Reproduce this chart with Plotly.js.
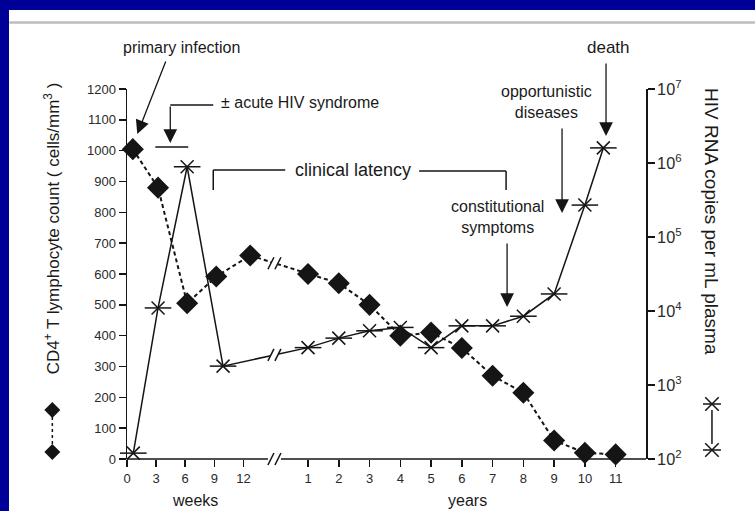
<!DOCTYPE html>
<html><head><meta charset="utf-8">
<script src="https://cdn.plot.ly/plotly-3.0.1.min.js"></script>
<style>
html,body{margin:0;padding:0;background:#ffffff;width:755px;height:511px;overflow:hidden}
#chart{position:absolute;left:0;top:0;width:755px;height:511px;}
.bar{position:absolute;background:#000099;z-index:5}
</style></head><body><div id="chart"></div>
<div class="bar" style="left:0;top:0;width:755px;height:10px"></div>
<div class="bar" style="left:0;top:0;width:9px;height:511px"></div>
<script>
// ---- data (weeks phase) ----
const cd4Weeks = [0.6, 3.2, 6.2, 9.2, 12.7];
const cd4WeekValues = [1005, 880, 505, 592, 660];
const rnaWeeks = [0.65, 3.2, 6.2, 9.9];
const rnaWeekValues = [120, 11000, 890000, 1800];
// ---- data (years phase) ----
const cd4Years = [1, 2, 3, 4, 5, 6, 7, 8, 9, 10, 11];
const cd4YearValues = [600, 570, 500, 400, 410, 360, 270, 215, 60, 20, 15];
const rnaYears = [1, 2, 3, 4, 5, 6, 7, 8, 9, 10, 10.6];
const rnaYearValues = [3200, 4300, 5400, 6000, 3200, 6300, 6300, 8500, 17000, 270000, 1600000];
// ---- tick labels ----
const weekTicks = [0, 3, 6, 9, 12];
const yearTicks = [1, 2, 3, 4, 5, 6, 7, 8, 9, 10, 11];

// one shared x scale: weeks in their own units, years placed after the break
const YEAR_OFFSET = 15.49, PER_YEAR = 3.171, X_MAX = 53.5, BREAK_X = 15.2;
const yx = y => YEAR_OFFSET + y * PER_YEAR;

const PL = 126.7, PR = 646, PT = 89, PB = 459;
const W = PR - PL, H = PB - PT;
const pxX = W / X_MAX;
const pxY = H / 1200;
const PX = x => (x - PL) / W;
const PY = y => (PB - y) / H;
const toLeft = v => (Math.log10(v) - 2) * 240;

const ink = '#151515';
const cd4X = cd4Weeks.concat(cd4Years.map(yx));
const cd4Y = cd4WeekValues.concat(cd4YearValues);
const rnaX = rnaWeeks.concat(rnaYears.map(yx));
const rnaY = rnaWeekValues.concat(rnaYearValues);

const traces = [
  {x: cd4X, y: cd4Y, yaxis: 'y', mode: 'lines+markers', cliponaxis: false,
   line: {color: ink, width: 2, dash: '4px,3px'},
   marker: {symbol: 'diamond', size: 17, color: ink}, hoverinfo: 'skip'},
  {x: rnaX, y: rnaY, yaxis: 'y2', mode: 'lines+markers', cliponaxis: false,
   line: {color: ink, width: 1.5},
   marker: {symbol: 'x-thin-open', size: 13, color: ink, line: {color: ink, width: 1.5}}, hoverinfo: 'skip'},
  {x: rnaX, y: rnaY, yaxis: 'y2', mode: 'markers', cliponaxis: false,
   marker: {symbol: 'line-ew-open', size: 19, color: ink, line: {color: ink, width: 1.5}}, hoverinfo: 'skip'}
];

const shapes = [];
function slashPair(cx, cy, yref, perPxY) {
  const dx = 3 / pxX, dy = 6 * perPxY, sep = 3.5 / pxX;
  shapes.push({type: 'path', xref: 'x', yref: yref, layer: 'above', line: {width: 0}, fillcolor: 'white',
    path: `M${cx - sep - dx},${cy - dy} L${cx - sep + dx},${cy + dy} L${cx + sep + dx},${cy + dy} L${cx + sep - dx},${cy - dy} Z`});
  [-sep, sep].forEach(o => shapes.push({type: 'line', xref: 'x', yref: yref, layer: 'above',
    x0: cx + o - dx, y0: cy - dy, x1: cx + o + dx, y1: cy + dy, line: {color: ink, width: 1.5}}));
}
function interp(x0, y0, x1, y1, x) { return y0 + (y1 - y0) * (x - x0) / (x1 - x0); }
const nW = cd4Weeks.length - 1;
slashPair(BREAK_X, interp(cd4Weeks[nW], cd4WeekValues[nW], yx(cd4Years[0]), cd4YearValues[0], BREAK_X), 'y', 1 / pxY);
const rW = rnaWeeks.length - 1;
slashPair(BREAK_X, interp(rnaWeeks[rW], toLeft(rnaWeekValues[rW]), yx(rnaYears[0]), toLeft(rnaYearValues[0]), BREAK_X), 'y', 1 / pxY);
shapes.push({type: 'line', xref: 'x', yref: 'paper', x0: -0.9, x1: BREAK_X - 3.5 / pxX - 3 / pxX, y0: 0, y1: 0, line: {color: ink, width: 1.5}});
shapes.push({type: 'line', xref: 'x', yref: 'paper', x0: BREAK_X + 3.5 / pxX + 3 / pxX, x1: X_MAX + 0.5, y0: 0, y1: 0, line: {color: ink, width: 1.5}});
[-3.5, 3.5].forEach(o => shapes.push({type: 'line', xref: 'x', yref: 'paper',
  x0: BREAK_X + (o - 3) / pxX, y0: -6 / H, x1: BREAK_X + (o + 3) / pxX, y1: 6 / H, line: {color: ink, width: 1.5}}));
shapes.push({type: 'line', xref: 'paper', yref: 'paper', x0: PX(9), x1: PX(755), y0: PY(22.5), y1: PY(22.5), line: {color: '#bdbdbd', width: 2.5}});

const seg = (x0, y0, x1, y1, dash) => shapes.push({type: 'line', xref: 'paper', yref: 'paper',
  x0: PX(x0), y0: PY(y0), x1: PX(x1), y1: PY(y1), line: {color: ink, width: 1.5, dash: dash || 'solid'}});
seg(170, 105, 213, 105);
seg(155, 147, 188, 147);
seg(213, 190, 213, 170); seg(213, 170, 285, 170);
seg(419, 171, 506, 171); seg(506, 171, 506, 190);

const diamond = (cx, cy, r) => shapes.push({type: 'path', xref: 'paper', yref: 'paper', line: {width: 0}, fillcolor: ink,
  path: `M${PX(cx)},${PY(cy - r)} L${PX(cx + r)},${PY(cy)} L${PX(cx)},${PY(cy + r)} L${PX(cx - r)},${PY(cy)} Z`});
seg(52, 417, 52, 445, '3px,3px');
diamond(52, 410, 8); diamond(52, 452, 8);
const star = (cx, cy, r) => { seg(cx - r, cy, cx + r, cy); seg(cx - r * 0.75, cy - r * 0.75, cx + r * 0.75, cy + r * 0.75);
  seg(cx - r * 0.75, cy + r * 0.75, cx + r * 0.75, cy - r * 0.75); };
seg(712, 410, 712, 444);
star(712, 404, 9); star(712, 450, 9);

const F = 'Liberation Sans, Arial, sans-serif';
const txt = (t, x, y, size, extra) => Object.assign({text: t, xref: 'paper', yref: 'paper', x: PX(x), y: PY(y),
  showarrow: false, font: {family: F, size: size, color: '#1a1a1a'}, xanchor: 'center', yanchor: 'middle'}, extra || {});
const arrow = (tx, ty, hx, hy) => ({text: '', xref: 'paper', yref: 'paper', x: PX(hx), y: PY(hy),
  ax: tx - hx, ay: ty - hy, showarrow: true, arrowhead: 2, arrowsize: 2.1, arrowwidth: 1.3, arrowcolor: ink, standoff: 0, startstandoff: 0});

const annotations = [
  txt('primary infection', 181, 47, 16),
  arrow(166, 60, 137, 134),
  txt('± acute HIV syndrome', 219, 103, 16, {xanchor: 'left'}),
  arrow(170, 105, 170, 143),
  txt('clinical latency', 353, 170, 18),
  txt('constitutional<br>symptoms', 497, 217, 16),
  arrow(507, 242, 507, 307),
  txt('opportunistic<br>diseases', 546, 102, 16),
  arrow(562, 127, 562, 213),
  txt('death', 608, 47, 17),
  arrow(606, 62, 606, 136),
  txt('weeks', 195, 500, 16),
  txt('years', 467, 500, 16),
  txt('CD4<sup>+</sup> T lymphocyte count ( cells/mm<sup>3</sup> )', 52, 228, 17, {textangle: -90}),
  txt('HIV RNA copies per mL plasma', 712, 222, 19, {textangle: 90})
];

const tickFont = {family: F, size: 13, color: '#2a2a2a'};
const layout = {
  width: 755, height: 511,
  margin: {l: PL, r: 755 - PR, t: PT, b: 511 - PB, pad: 0},
  paper_bgcolor: 'white', plot_bgcolor: 'white', showlegend: false,
  xaxis: {range: [0, X_MAX], tickmode: 'array', tickvals: weekTicks.concat(yearTicks.map(yx)),
    ticktext: weekTicks.concat(yearTicks).map(String), ticks: 'outside', ticklen: 7, tickwidth: 1.5,
    tickcolor: ink, showline: false, showgrid: false, zeroline: false, tickfont: tickFont, fixedrange: true},
  yaxis: {range: [0, 1200], dtick: 100, tick0: 0, ticks: 'outside', ticklen: 7, tickwidth: 1.5, tickcolor: ink,
    showline: true, linecolor: ink, linewidth: 1.5, showgrid: false, zeroline: false, tickfont: tickFont, fixedrange: true},
  yaxis2: {type: 'log', range: [2, 7], dtick: 1, exponentformat: 'power', overlaying: 'y', side: 'right',
    ticks: 'outside', ticklen: 7, tickwidth: 1.5, tickcolor: ink, showline: true, linecolor: ink, linewidth: 1.5,
    showgrid: false, zeroline: false, tickfont: tickFont, fixedrange: true},
  shapes: shapes, annotations: annotations
};
Plotly.newPlot('chart', traces, layout, {displayModeBar: false, staticPlot: true});
</script></body></html>
